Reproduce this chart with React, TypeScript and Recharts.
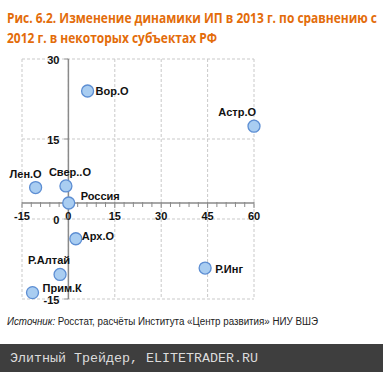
import React from 'react';
import { ScatterChart, Scatter, XAxis, YAxis, CartesianGrid, ReferenceLine, ReferenceDot } from 'recharts';

// regions and their growth values (x, y)
const regions = ['Вор.О', 'Астр.О', 'Лен.О', 'Свер..О', 'Россия', 'Арх.О', 'Р.Алтай', 'Прим.К', 'Р.Инг'];
const xValues = [6.2, 60, -10.6, -0.8, 0.1, 2.4, -2.7, -11.6, 44.2];
const yValues = [24.0, 17.4, 5.9, 6.2, 3.0, -3.7, -10.4, -13.8, -9.2];

const xTicks = [-15, 0, 15, 30, 45, 60];
const yTicks = [-15, 0, 15, 30];
const xMinorTicks = [-12, -9, -6, -3, 3, 6, 9, 12, 18, 21, 24, 27, 33, 36, 39, 42, 48, 51, 54, 57];
const xCross = 3; // horizontal axis crosses the vertical one here

const titleLines = ['Рис. 6.2. Изменение динамики ИП в 2013 г. по сравнению с', '2012 г. в некоторых субъектах РФ'];

// where each point's label sits relative to the marker
const labelPlace: Record<string, { dx: number; dy: number; anchor: string }> = {
  'Вор.О': { dx: 8, dy: 0, anchor: 'start' },
  'Астр.О': { dx: 2, dy: -14, anchor: 'end' },
  'Лен.О': { dx: -10, dy: -14, anchor: 'middle' },
  'Свер..О': { dx: 4, dy: -14, anchor: 'middle' },
  'Россия': { dx: 12, dy: -7, anchor: 'start' },
  'Арх.О': { dx: 6, dy: -3, anchor: 'start' },
  'Р.Алтай': { dx: 10, dy: -14, anchor: 'end' },
  'Прим.К': { dx: 10, dy: -5, anchor: 'start' },
  'Р.Инг': { dx: 10, dy: 1, anchor: 'start' },
};

const data = regions.map((name, i) => ({ name, x: xValues[i], y: yValues[i] }));

const FONT = '"Liberation Sans", Arial, sans-serif';
const AXIS = '#8a8a8a';

const PointShape = (p: any) => {
  const place = labelPlace[p.payload.name];
  return (
    <g>
      <circle cx={p.cx} cy={p.cy} r={6} fill="#a9cdf1" stroke="#5d8ed3" strokeWidth={1.3} />
      <text
        x={p.cx + place.dx}
        y={p.cy + place.dy}
        textAnchor={place.anchor}
        dominantBaseline="central"
        fontFamily={FONT}
        fontSize={11}
        fontWeight="bold"
        fill="#111"
      >
        {p.payload.name}
      </text>
    </g>
  );
};

const xTickShape = (label: number | null) => (p: any) => (
  <g>
    <line x1={p.cx} x2={p.cx} y1={p.cy - 1} y2={p.cy + (label !== null ? 5 : 4)} stroke={AXIS} strokeWidth={1} />
    {label !== null && (
      <text x={p.cx} y={p.cy + 17} textAnchor="middle" fontFamily={FONT} fontSize={11} fontWeight="bold" fill="#111">
        {label}
      </text>
    )}
  </g>
);

const yTickShape = (label: number) => (p: any) => (
  <g>
    <line x1={p.cx - 4} x2={p.cx} y1={p.cy} y2={p.cy} stroke={AXIS} strokeWidth={1} />
    <text x={p.cx - 9} y={p.cy + 1} textAnchor="end" dominantBaseline="central" fontFamily={FONT} fontSize={11} fontWeight="bold" fill="#111">
      {label}
    </text>
  </g>
);

export default function App() {
  return (
    <div style={{ position: 'absolute', left: 0, top: 0, width: 383, height: 372, background: '#fff', overflow: 'hidden' }}>
      <ScatterChart width={383} height={372} margin={{ top: 59, right: 129, bottom: 73, left: 22 }}>
        <CartesianGrid stroke="#c9c9c9" strokeDasharray="3 2" />
        <XAxis type="number" dataKey="x" domain={[-15, 60]} ticks={xTicks} hide />
        <YAxis type="number" dataKey="y" domain={[-15, 30]} ticks={yTicks} hide />
        <ReferenceLine y={xCross} stroke={AXIS} strokeWidth={1.5} />
        <ReferenceLine x={0} stroke={AXIS} strokeWidth={1.5} />
        {xMinorTicks.map((t) => (
          <ReferenceDot key={`mx${t}`} x={t} y={xCross} r={0} shape={xTickShape(null)} />
        ))}
        {xTicks.map((t) => (
          <ReferenceDot key={`x${t}`} x={t} y={xCross} r={0} shape={xTickShape(t)} />
        ))}
        {yTicks.map((t) => (
          <ReferenceDot key={`y${t}`} x={0} y={t} r={0} shape={yTickShape(t)} />
        ))}
        <Scatter data={data} isAnimationActive={false} shape={PointShape} />
      </ScatterChart>
      <svg width={383} height={372} style={{ position: 'absolute', left: 0, top: 0, pointerEvents: 'none' }}>
        <text x={7} y={23} textLength={370} lengthAdjust="spacingAndGlyphs" fontFamily='"Open Sans", sans-serif' fontWeight="bold" fontSize={14} fill="#e36c0a">
          {titleLines[0]}
        </text>
        <text x={7} y={43} textLength={210} lengthAdjust="spacingAndGlyphs" fontFamily='"Open Sans", sans-serif' fontWeight="bold" fontSize={14} fill="#e36c0a">
          {titleLines[1]}
        </text>
        <text x={7} y={325} textLength={311} lengthAdjust="spacingAndGlyphs" fontFamily={FONT} fontSize={10} fill="#222">
          <tspan fontStyle="italic">Источник:</tspan> Росстат, расчёты Института «Центр развития» НИУ ВШЭ
        </text>
        <rect x={0} y={344} width={383} height={28} fill="#3e3e3e" />
        <text x={10} y={362} textLength={248} lengthAdjust="spacingAndGlyphs" fontFamily='"Liberation Mono", monospace' fontSize={13} fill="#dcdcdc">
          Элитный Трейдер, ELITETRADER.RU
        </text>
      </svg>
    </div>
  );
}
